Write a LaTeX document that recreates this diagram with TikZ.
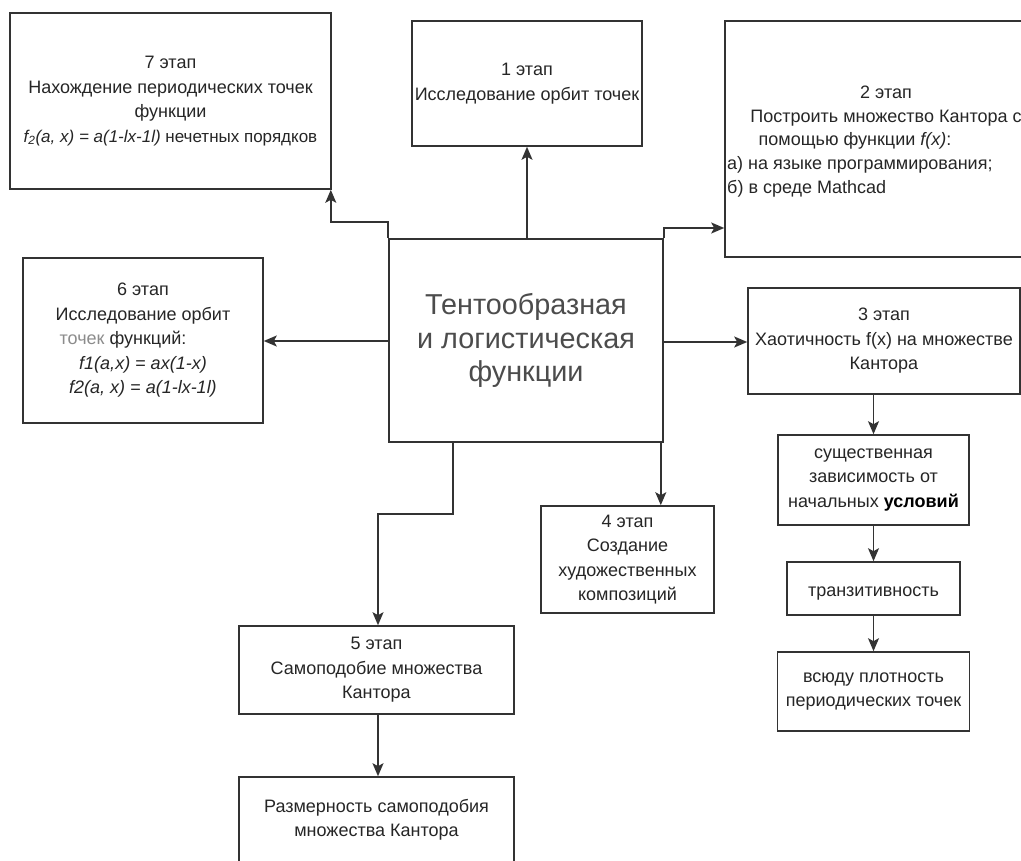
\documentclass[tikz,border=0pt]{standalone}
\usepackage{fontspec}
\setmainfont{Liberation Sans}
\usetikzlibrary{arrows.meta}
\begin{document}
\begin{tikzpicture}[x=1pt,y=-1pt,
  box/.style={draw=black!80, line width=1.6pt, inner sep=0pt, align=center,
    font=\fontsize{18}{24.5}\selectfont, text=black!85,
    execute at begin node={\rule{0pt}{20pt}}},
  txt/.style={inner sep=0pt, font=\fontsize{18}{24.5}\selectfont, text=black!85},
  arr/.style={draw=black!80, line width=1.6pt, -{Stealth[length=13pt,width=11pt,inset=3pt]}}]
\useasboundingbox (0,0) rectangle (1021,861);
\fill[white] (0,0) rectangle (1021,861);
\clip (0,0) rectangle (1021,861);

% centre
\node[box, minimum width=274pt, minimum height=203pt,
  font=\fontsize{28.8}{33.5}\selectfont, text=black!70,
  execute at begin node={\rule{0pt}{36pt}}] (c) at (526,340.5)
  {Тентообразная\\и логистическая\\функции};

% boxes
\node[box, minimum width=321pt, minimum height=176pt] (b7) at (170.5,101)
  {7 этап\\Нахождение периодических точек\\функции\\
   {\fontsize{17}{24.5}\selectfont\textit{f\textsubscript{2}(a, x) = a(1-lx-1l)} нечетных порядков}};
\node[box, minimum width=230pt, minimum height=125pt] (b1) at (527,83.5)
  {1 этап\\Исследование орбит точек};
\node[box, minimum width=305pt, minimum height=236pt, execute at begin node={}] (b2) at (877.5,139) {};
\node[txt, align=center] (b2a) at (886,106) {2 этап\\Построить множество Кантора с};
\node[txt] (b2b) at (855,141) {помощью функции \textit{f(x)}:};
\node[txt, align=left, anchor=west] (b2c) at (727,177) {а) на языке программирования;\\б) в среде Mathcad};
\node[box, minimum width=240pt, minimum height=165pt] (b6) at (143,340.5)
  {6 этап\\Исследование орбит\\{\color{black!45}точек} функций:\kern 40pt\\
   \textit{f1(a,x) = ax(1-x)}\\\textit{f2(a, x) = a(1-lx-1l)}};
\node[box, minimum width=272pt, minimum height=106pt] (b3) at (884,341)
  {3 этап\\Хаотичность f(x) на множестве\\Кантора};
\node[box, minimum width=191pt, minimum height=90pt] (s1) at (873.5,480)
  {существенная\\зависимость от\\начальных {\bfseries\color{black}условий}};
\node[box, minimum width=173pt, minimum height=53pt] (s2) at (873.5,588.5)
  {транзитивность};
\node[box, minimum width=192pt, minimum height=79pt] (s3) at (873.5,691.5)
  {всюду плотность\\периодических точек};
\node[box, minimum width=173pt, minimum height=107pt] (b4) at (627.5,559.5)
  {4 этап\\Создание\\художественных\\композиций};
\node[box, minimum width=275pt, minimum height=88pt] (b5) at (376.5,670)
  {5 этап\\Самоподобие множества\\Кантора};
\node[box, minimum width=275pt, minimum height=86pt] (b8) at (376.5,820)
  {Размерность самоподобия\\множества Кантора};

% connectors
\draw[arr] (c.north -| b1.south) -- (b1.south);
\draw[arr] (c.north west) -- ++(0,-16) -| ([xshift=-1pt]b7.south east);
\draw[arr] (c.north east) |- (b2.west |- 0,228);
\draw[arr] (c.west |- 0,341) -- (b6.east |- 0,341);
\draw[arr] (c.east |- 0,342) -- (b3.west |- 0,342);
\draw[arr] (s1.north |- b3.south) -- (s1.north);
\draw[arr] (s1.south) -- (s2.north);
\draw[arr] (s2.south) -- (s3.north);
\draw[arr] ([xshift=-3pt]c.south east) -- ([xshift=-3pt]c.south east |- b4.north);
\draw[arr] ([xshift=65pt]c.south west) -- ++(0,71) -| ([xshift=1.5pt]b5.north);
\draw[arr] ([xshift=1.5pt]b5.south) -- ([xshift=1.5pt]b8.north);
\end{tikzpicture}
\end{document}
